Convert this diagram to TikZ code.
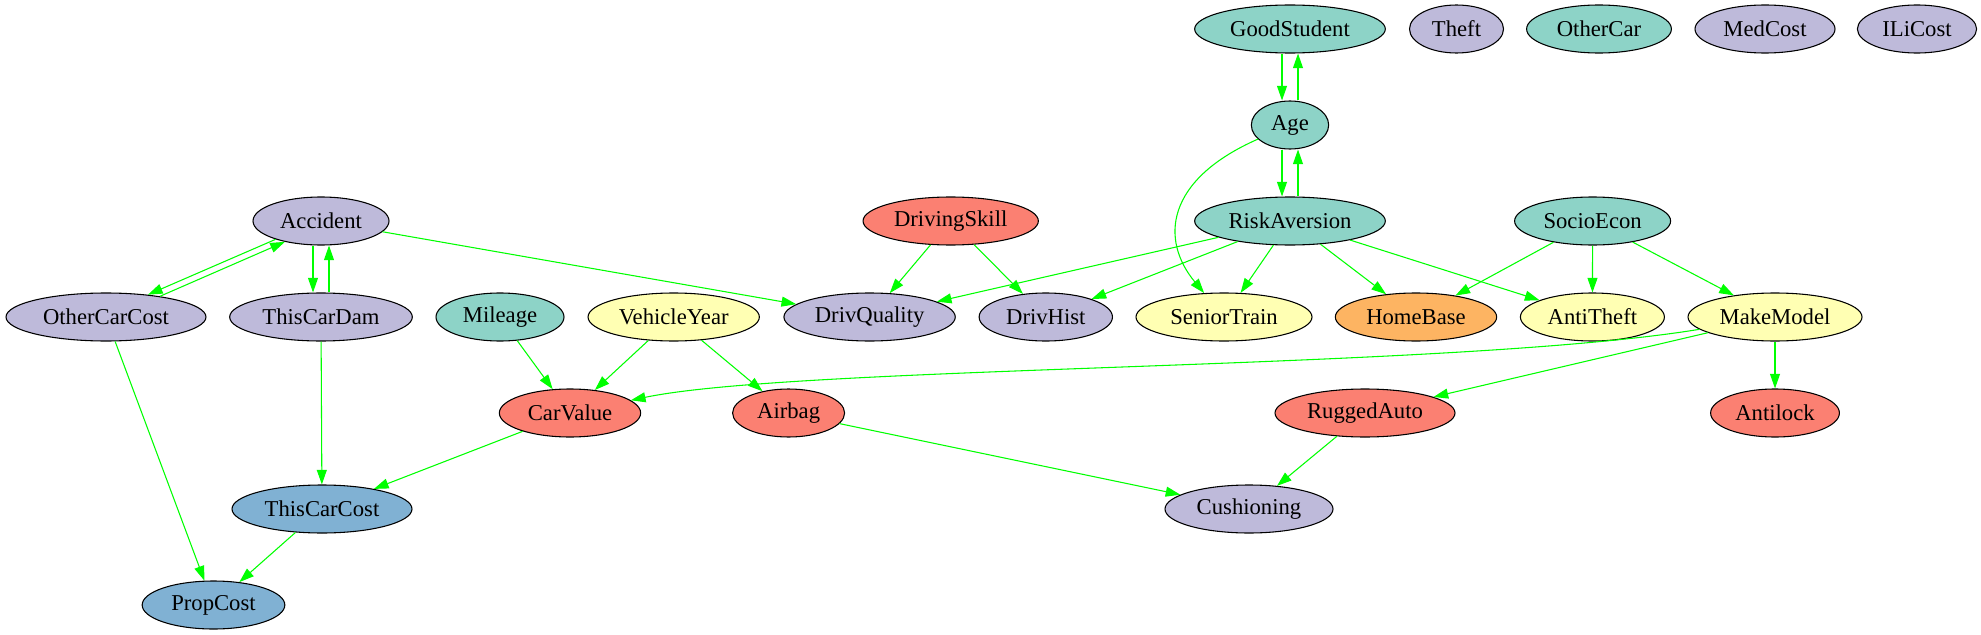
\documentclass[tikz,border=0pt]{standalone}
\usepackage{fontspec}
\setmainfont{Liberation Serif}
\usetikzlibrary{shapes.geometric,arrows.meta}
\definecolor{cteal}{HTML}{8DD3C7}
\definecolor{cyell}{HTML}{FFFFB3}
\definecolor{clav}{HTML}{BEBADA}
\definecolor{csalm}{HTML}{FB8072}
\definecolor{cblue}{HTML}{80B1D3}
\definecolor{corng}{HTML}{FDB462}
\definecolor{cedge}{HTML}{00FF00}
\begin{document}
\begin{tikzpicture}[
  x=0.75pt, y=-0.75pt,
  font=\fontsize{17}{20}\selectfont,
  var/.style={ellipse, draw, line width=0.8pt, inner sep=0pt, minimum height=36pt},
  dep/.style={color=cedge, line width=0.8pt, -{Triangle[length=11pt,width=7.5pt]}},
]
\def\rowa{29}
\def\rowb{125}
\def\rowc{221}
\def\rowd{317}
\def\rowe{413}
\def\rowf{509}
\def\rowg{605}
\def\dx{6pt}

\useasboundingbox (0,0) rectangle (1981,635);

\node[var, fill=cteal, minimum width=143pt] (gs) at (1290,\rowa) {GoodStudent};
\node[var, fill=clav, minimum width=70.5pt] (theft) at (1456.5,\rowa) {Theft};
\node[var, fill=cteal, minimum width=108.6pt] (oc) at (1599,\rowa) {OtherCar};
\node[var, fill=clav, minimum width=105pt] (med) at (1765,\rowa) {MedCost};
\node[var, fill=clav, minimum width=89.4pt] (ili) at (1917,\rowa) {ILiCost};

\node[var, fill=cteal, minimum width=58pt] (age) at (1290,\rowb) {Age};

\node[var, fill=clav, minimum width=102pt] (acc) at (321,\rowc) {Accident};
\node[var, fill=csalm, minimum width=131.5pt] (ds) at (950.7,\rowc) {DrivingSkill};
\node[var, fill=cteal, minimum width=143pt] (ra) at (1290,\rowc) {RiskAversion};
\node[var, fill=cteal, minimum width=117pt] (se) at (1592.6,\rowc) {SocioEcon};

\node[var, fill=clav, minimum width=150pt] (occ) at (106,\rowd) {OtherCarCost};
\node[var, fill=clav, minimum width=137pt] (tcd) at (321,\rowd) {ThisCarDam};
\node[var, fill=cteal, minimum width=96pt] (mil) at (500,\rowd) {Mileage};
\node[var, fill=cyell, minimum width=128.5pt] (vy) at (673.7,\rowd) {VehicleYear};
\node[var, fill=clav, minimum width=128.5pt] (dq) at (869.6,\rowd) {DrivQuality};
\node[var, fill=clav, minimum width=100pt] (dh) at (1045.8,\rowd) {DrivHist};
\node[var, fill=cyell, minimum width=132pt] (st) at (1224,\rowd) {SeniorTrain};
\node[var, fill=corng, minimum width=121pt] (hb) at (1416,\rowd) {HomeBase};
\node[var, fill=cyell, minimum width=108pt] (at) at (1592.4,\rowd) {AntiTheft};
\node[var, fill=cyell, minimum width=130.5pt] (mm) at (1775,\rowd) {MakeModel};

\node[var, fill=csalm, minimum width=106pt] (cv) at (570,\rowe) {CarValue};
\node[var, fill=csalm, minimum width=84pt] (ab) at (788.6,\rowe) {Airbag};
\node[var, fill=csalm, minimum width=135pt] (rug) at (1365,\rowe) {RuggedAuto};
\node[var, fill=csalm, minimum width=96.6pt] (al) at (1775,\rowe) {Antilock};

\node[var, fill=cblue, minimum width=135pt] (tcc) at (322,\rowf) {ThisCarCost};
\node[var, fill=clav, minimum width=126pt] (cush) at (1249,\rowf) {Cushioning};

\node[var, fill=cblue, minimum width=107pt] (pc) at (213.5,\rowg) {PropCost};

\draw[dep] ([xshift=-\dx]gs.south) -- ([xshift=-\dx]age.north);
\draw[dep] ([xshift=\dx]age.north) -- ([xshift=\dx]gs.south);
\draw[dep] ([xshift=-\dx]age.south) -- ([xshift=-\dx]ra.north);
\draw[dep] ([xshift=\dx]ra.north) -- ([xshift=\dx]age.south);
\draw[dep] (age) .. controls (1165,180) and (1160,240) .. (st);

\draw[dep] (acc.202) -- (occ.28);
\draw[dep] (occ.21) -- (acc.210);
\draw[dep] ([xshift=-\dx]acc.south) -- ([xshift=-\dx]tcd.north);
\draw[dep] ([xshift=\dx]tcd.north) -- ([xshift=\dx]acc.south);
\draw[dep] (acc) -- (dq);

\draw[dep] (ds) -- (dq);
\draw[dep] (ds) -- (dh);
\draw[dep] (ra) -- (dq);
\draw[dep] (ra) -- (dh);
\draw[dep] (ra) -- (st);
\draw[dep] (ra) -- (hb);
\draw[dep] (ra) -- (at);
\draw[dep] (se) -- (hb);
\draw[dep] (se) -- (at);
\draw[dep] (se) -- (mm);

\draw[dep] (mil) -- (cv);
\draw[dep] (vy) -- (cv);
\draw[dep] (vy) -- (ab);
\draw[dep] (mm) .. controls (1450,370) and (800,365) .. (cv);
\draw[dep] (mm) -- (rug);
\draw[dep] (mm) -- (al);

\draw[dep] (cv) -- (tcc);
\draw[dep] (tcd) -- (tcc);
\draw[dep] (ab) -- (cush);
\draw[dep] (rug) -- (cush);
\draw[dep] (occ) -- (pc);
\draw[dep] (tcc) -- (pc);
\end{tikzpicture}
\end{document}
